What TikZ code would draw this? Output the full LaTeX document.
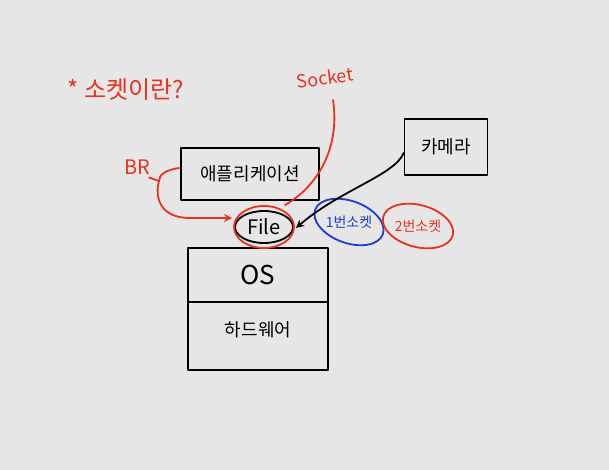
\documentclass[tikz,border=0pt]{standalone}
\usepackage{fontspec}
\setmainfont{Noto Sans CJK KR}
\usetikzlibrary{arrows.meta}
\definecolor{bg}{HTML}{E6E6E6}
\definecolor{redpen}{HTML}{E8321E}
\definecolor{bluepen}{HTML}{1B3CD8}
\begin{document}
\begin{tikzpicture}[x=1pt,y=-1pt,
  ink/.style={line width=1.8pt,line cap=round,line join=round},
  box/.style={ink,draw=black,inner sep=0pt,font=\fontsize{18}{18}\selectfont},
  redlabel/.style={text=redpen,inner sep=1pt},
  redline/.style={ink,draw=redpen},
  tip/.style={-{Stealth[length=8pt,width=8pt]}}
]
\fill[bg] (0,0) rectangle (609,470);
\useasboundingbox (0,0) rectangle (609,470);

% title and labels
\node[redlabel,font=\fontsize{24}{24}\selectfont] (title) at (126,90) {* 소켓이란?};
\node[redlabel,rotate=8,font=\fontsize{18}{18}\selectfont] (socketlbl) at (325,78) {Socket};
\node[redlabel,font=\fontsize{20}{20}\selectfont] (br) at (137,167) {BR};

% boxes
\node[box,minimum width=138,minimum height=52] (app) at (250,174) {애플리케이션};
\node[box,minimum width=83,minimum height=56] (cam) at (446,147) {카메라};
\node[box,minimum width=140,minimum height=54] (os) at (258,275) {\fontsize{26}{26}\selectfont OS};
\node[box,minimum width=140,minimum height=68,text depth=14pt] (hw) at (258,336) {하드웨어};

% file
\node[font=\fontsize{20}{20}\selectfont,inner sep=1pt] (file) at (264,227) {File};
\draw[ink] (file.center) ellipse [x radius=29,y radius=16];
\draw[redline] (file.center) ellipse [x radius=30,y radius=21];

% sockets
\node[text=bluepen,font=\fontsize{14}{14}\selectfont] (s1) at (349,222) {1번소켓};
\draw[ink,draw=bluepen,rotate around={-20:(s1.center)}] (s1.center) ellipse [x radius=36,y radius=21];
\node[text=redpen,font=\fontsize{14}{14}\selectfont] (s2) at (418,226) {2번소켓};
\draw[redline,rotate around={-15:(s2.center)}] (s2.center) ellipse [x radius=36,y radius=21];

% connectors
\coordinate (sockstart) at (333,100);
\draw[redline] (sockstart)
  .. controls (340,145) and (320,185) .. (285,205);
\coordinate (brjoin) at (159,181);
\draw[redline,tip] (179,168)
  .. controls (165,170) and (159,175) .. (brjoin)
  .. controls (155,195) and (158,218) .. (190,218)
  -- (232,218);
\draw[redline] (br.south east) ++(-2,2) -- (brjoin);
\draw[ink,tip] (cam.west) ++(0,6)
  .. controls (395,175) and (340,190) .. (296,228);
\end{tikzpicture}
\end{document}
